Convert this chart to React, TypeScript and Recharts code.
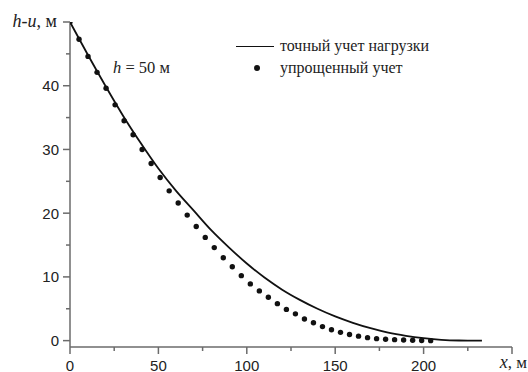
import React from 'react';
import { ComposedChart, Line, Scatter, XAxis, YAxis } from 'recharts';

if (typeof document !== 'undefined') document.body.style.margin = '0';

// точный учет нагрузки (solid line)
const exactX = [0, 10, 20, 30, 40, 50, 60, 70, 80, 90, 100, 110, 120, 130, 140, 150, 160, 170, 180, 190, 200, 210, 220, 233];
const exactY = [50, 44.9, 40.0, 35.3, 31.0, 27.0, 23.5, 20.4, 17.3, 14.6, 12.1, 9.9, 8.0, 6.4, 5.0, 3.8, 2.8, 1.95, 1.25, 0.75, 0.38, 0.12, 0.02, 0];

// упрощенный учет (dots)
const simpleX = [0, 5.1, 10.2, 15.3, 20.4, 25.5, 30.6, 35.7, 40.8, 45.9, 51.0, 56.1, 61.2, 66.3, 71.4, 76.5, 81.6, 86.7, 91.8, 96.9, 102.0, 107.1, 112.2, 117.3, 122.4, 127.5, 132.6, 137.7, 142.8, 147.9, 153.0, 158.1, 163.2, 168.3, 173.4, 178.5, 183.6, 188.7, 193.8, 198.9, 204.0];
const simpleY = [50, 47.3, 44.6, 42.1, 39.6, 37.0, 34.5, 32.3, 30.0, 27.8, 25.6, 23.5, 21.6, 19.7, 17.9, 16.2, 14.6, 13.0, 11.6, 10.2, 8.9, 7.8, 6.8, 5.8, 4.9, 4.2, 3.4, 2.8, 2.2, 1.7, 1.3, 0.95, 0.7, 0.47, 0.31, 0.21, 0.15, 0.1, 0.05, 0.03, 0];

const xTicks = [0, 25, 50, 75, 100, 125, 150, 175, 200, 225, 250];
const yTicks = [0, 5, 10, 15, 20, 25, 30, 35, 40, 45, 50];

const exactData = exactX.map((x, i) => ({ x, y: exactY[i] }));
const simpleData = simpleX.map((x, i) => ({ x, y: simpleY[i] }));

const axisColor = '#6b6b6b';
const sans = '"Liberation Sans", Arial, sans-serif';
const serif = '"Liberation Serif", "Times New Roman", serif';

const XTick = (props: any) => {
  const { x, y, payload } = props;
  const v = payload.value;
  const major = v % 50 === 0;
  return (
    <g>
      <line x1={x} x2={x} y1={y} y2={y + (major ? 7 : 4)} stroke={axisColor} strokeWidth={1.5} />
      {major && v < 250 && (
        <text x={x} y={y + 23.5} textAnchor="middle" fontFamily={sans} fontSize={15} fill="#222">{v}</text>
      )}
      {v === 250 && (
        <text x={x + 15} y={y + 20.5} textAnchor="end" fontFamily={serif} fontSize={17} fill="#222">
          <tspan fontStyle="italic" fontSize={18}>x</tspan>, м
        </text>
      )}
    </g>
  );
};

const YTick = (props: any) => {
  const { x, y, payload } = props;
  const v = payload.value;
  const major = v % 10 === 0;
  return (
    <g>
      <line x1={x} x2={x - (major ? 7 : 4)} y1={y} y2={y} stroke={axisColor} strokeWidth={1.5} />
      {major && v < 50 && (
        <text x={x - 11} y={y + 5.5} textAnchor="end" fontFamily={sans} fontSize={15} fill="#222">{v}</text>
      )}
      {v === 50 && (
        <text x={x - 13} y={y + 5} textAnchor="end" fontFamily={serif} fontSize={18} fill="#222">
          <tspan fontStyle="italic">h-u</tspan>, м
        </text>
      )}
    </g>
  );
};

const Dot = (props: any) => <circle cx={props.cx} cy={props.cy} r={2.7} fill="#111" />;

export default function App() {
  return (
    <div style={{ position: 'relative', width: 528, height: 372, background: '#fff' }}>
      <ComposedChart width={528} height={372} margin={{ top: 22, right: 16, bottom: 0, left: 0 }}>
        <XAxis
          type="number"
          dataKey="x"
          domain={[0, 250]}
          ticks={xTicks}
          interval={0}
          height={25}
          tickSize={0}
          tickMargin={0}
          tickLine={false}
          axisLine={{ stroke: axisColor, strokeWidth: 1.5 }}
          tick={<XTick />}
          allowDataOverflow
        />
        <YAxis
          type="number"
          dataKey="y"
          domain={[-1, 50]}
          ticks={yTicks}
          interval={0}
          width={70}
          tickSize={0}
          tickMargin={0}
          tickLine={false}
          axisLine={{ stroke: axisColor, strokeWidth: 1.5 }}
          tick={<YTick />}
          allowDataOverflow
        />
        <Line
          data={exactData}
          dataKey="y"
          type="monotone"
          stroke="#111"
          strokeWidth={1.8}
          dot={false}
          activeDot={false}
          isAnimationActive={false}
        />
        <Scatter data={simpleData} dataKey="y" shape={<Dot />} isAnimationActive={false} />
      </ComposedChart>

      <div style={{ position: 'absolute', left: 113, top: 58, fontFamily: serif, fontSize: 16.5, color: '#222', whiteSpace: 'nowrap' }}>
        <i>h</i> = 50 м
      </div>

      <div style={{ position: 'absolute', left: 236, top: 35, fontFamily: serif, fontSize: 16, color: '#222', lineHeight: '22px' }}>
        <div style={{ display: 'flex', alignItems: 'center' }}>
          <span style={{ display: 'inline-block', width: 38, height: 0, borderTop: '1.8px solid #111', marginRight: 6 }} />
          <span>точный учет нагрузки</span>
        </div>
        <div style={{ display: 'flex', alignItems: 'center' }}>
          <span style={{ display: 'inline-block', width: 38, marginRight: 6, position: 'relative', height: 6 }}>
            <span style={{ position: 'absolute', left: 18, top: 0, width: 6, height: 6, borderRadius: 3, background: '#111' }} />
          </span>
          <span>упрощенный учет</span>
        </div>
      </div>
    </div>
  );
}
